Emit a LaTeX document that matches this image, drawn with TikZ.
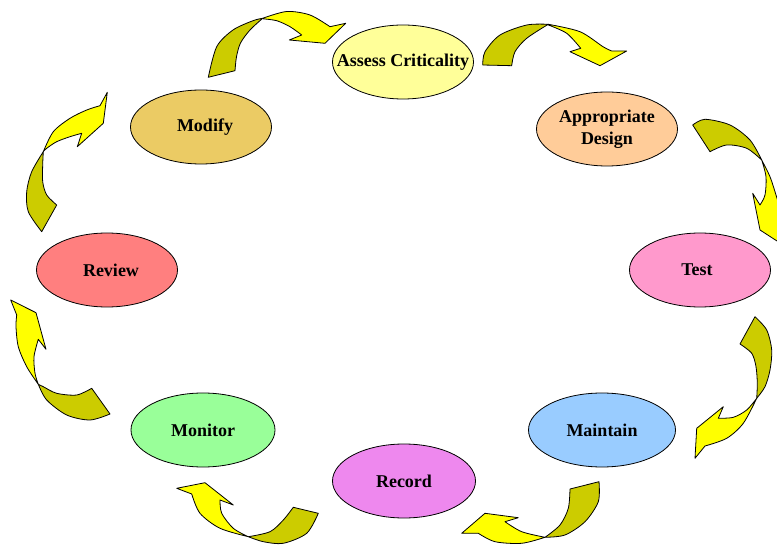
\documentclass[tikz,border=0pt]{standalone}
\usepackage{fontspec}
\setmainfont{Liberation Serif}
\usetikzlibrary{shapes.geometric}
\definecolor{cAssess}{HTML}{FFFF99}
\definecolor{cDesign}{HTML}{FFCC99}
\definecolor{cTest}{HTML}{FF99CC}
\definecolor{cMaintain}{HTML}{99CCFF}
\definecolor{cRecord}{HTML}{EE88EE}
\definecolor{cMonitor}{HTML}{99FF99}
\definecolor{cReview}{HTML}{FF7F7F}
\definecolor{cModify}{HTML}{EBCB64}
\definecolor{arrowback}{HTML}{CCCC00}
\definecolor{arrowfront}{HTML}{FFFF00}
\tikzset{
  stage/.style={ellipse, draw=black, line width=0.8pt, inner sep=0pt,
    minimum width=141pt, minimum height=74pt},
  stagetext/.style={inner sep=0pt, align=center,
    font=\bfseries\fontsize{18}{22}\selectfont},
  backface/.style={fill=arrowback, draw=black, line width=0.8pt, line join=round},
  frontface/.style={fill=arrowfront, draw=black, line width=0.8pt, line join=round}
}
\begin{document}
\begin{tikzpicture}[x=1pt,y=-1pt]
\useasboundingbox (0,0) rectangle (777,545);
\clip (0,0) rectangle (777,545);

% stages
\node[stage, fill=cAssess]   (assess)   at (403,62)  {};
\node[stage, fill=cDesign]   (design)   at (607,129) {};
\node[stage, fill=cTest]     (test)     at (700,270) {};
\node[stage, fill=cMaintain, minimum width=147pt] (maintain) at (602,430) {};
\node[stage, fill=cRecord, minimum width=143pt]   (record)   at (404,481) {};
\node[stage, fill=cMonitor, minimum width=144pt]  (monitor)  at (203,430) {};
\node[stage, fill=cReview]   (review)   at (107,270) {};
\node[stage, fill=cModify]   (modify)   at (201,127) {};

\node[stagetext] (assesst)   at (assess)   {Assess Criticality};
\node[stagetext] (designt)   at (design)   {Appropriate\\Design};
\node[stagetext] (testt)     at ([xshift=-3pt]test.center) {Test};
\node[stagetext] (maintaint) at (maintain) {Maintain};
\node[stagetext] (recordt)   at (record)   {Record};
\node[stagetext] (monitort)  at (monitor)  {Monitor};
\node[stagetext] (reviewt)   at ([xshift=4pt]review.center) {Review};
\node[stagetext] (modifyt)   at ([xshift=4pt]modify.center) {Modify};

% arrow 1: Modify -> Assess
\draw[backface] (208.3,77.3) -- (235,70.7)
  -- plot[smooth] coordinates {(235,70.7) (236.5,56.7) (240.5,43) (250,30) (262.7,18.3)}
  -- plot[smooth] coordinates {(262.7,18.3) (253,20.7) (233,30) (216.7,46.7) (208.3,77.3)} -- cycle;
\draw[frontface] plot[smooth] coordinates {(262.7,18.3) (286.7,11.5) (310,15) (330,26.7)}
  -- (345.7,23.3) -- (325,43.3) -- (289.3,40) -- (301.7,35)
  -- plot[smooth] coordinates {(301.7,35) (290,26.7) (276.7,20.7) (262.7,18.8)} -- cycle;

% arrow 2: Assess -> Design
\draw[backface] (482.7,65) -- (511.7,65.7)
  -- plot[smooth] coordinates {(511.7,65.7) (515,51.7) (526.7,38.3) (548.3,24.3)}
  -- plot[smooth] coordinates {(548.3,24.3) (526.7,25) (500,35) (485,51.7) (482.7,65)} -- cycle;
\draw[frontface] plot[smooth] coordinates {(548.3,24.3) (580,31.7) (603,46.7) (611.7,51)}
  -- (626.7,51) -- (600,65.7) -- (570,51.7) -- (580.7,48.3)
  -- plot[smooth] coordinates {(580.7,48.3) (566.7,33.3) (548.3,25)} -- cycle;

% arrow 3: Design -> Test
\draw[backface] plot[smooth] coordinates {(692.7,125) (705,119.3) (730,125) (750,140) (761.7,160)}
  -- plot[smooth] coordinates {(761.7,160) (746.7,148.3) (726.7,145) (710,151.7)} -- cycle;
\draw[frontface] plot[smooth] coordinates {(761.7,160) (770,176.7) (776,195) (781,212)}
  -- (792,205) -- (792,246) -- (777,241) -- (760,230) -- (752.7,193.3) -- (760,205)
  -- plot[smooth] coordinates {(760,205) (765,195) (766,176.7) (761.7,160)} -- cycle;

% arrow 4: Test -> Maintain
\draw[backface] (740,344) -- (755,316.7)
  -- plot[smooth] coordinates {(755,316.7) (766.7,330) (771.7,350) (770,370) (765,386.7) (756.7,398.3)}
  -- plot[smooth] coordinates {(756.7,398.3) (757.3,383.3) (756,366.7) (751.7,353.3) (740,344)} -- cycle;
\draw[frontface] plot[smooth] coordinates {(756.7,398.3) (743.3,423.3) (726.7,438.3) (705,446)}
  -- (695,458.3) -- (696.7,428.3) -- (723.3,406.7) -- (718.3,418.3)
  -- plot[smooth] coordinates {(718.3,418.3) (733.3,417.3) (746.7,410) (756.7,398.3)} -- cycle;

% arrow 8: Maintain -> Record
\draw[backface] (570,489) -- (599,481.7)
  -- plot[smooth] coordinates {(599,481.7) (598.3,501.7) (585,521.7) (565,535) (545,537.3)}
  -- plot[smooth] coordinates {(545,537.3) (560,525) (568.3,508.3) (570,489)} -- cycle;
\draw[frontface] plot[smooth] coordinates {(545,537.3) (521.7,543.3) (495,541.7) (478.3,533.3)}
  -- (461.7,533.3) -- (485,513.3) -- (518.3,517.7) -- (505,521.7)
  -- plot[smooth] coordinates {(505,521.7) (521.7,531.7) (545,537.3)} -- cycle;

% arrow 7: Record -> Monitor
\draw[backface] (293.3,507.3) -- (318.3,513.3)
  -- plot[smooth] coordinates {(318.3,513.3) (306.7,533.3) (283.3,543.3) (263.3,541.7) (248.3,536.7)}
  -- plot[smooth] coordinates {(248.3,536.7) (270,531.7) (283.3,520) (293.3,507.3)} -- cycle;
\draw[frontface] plot[smooth] coordinates {(248.3,536.7) (220,528.3) (200,513.3) (191.7,494)}
  -- (176.7,488.3) -- (205,482.7) -- (233.3,505) -- (220,500)
  -- plot[smooth] coordinates {(220,500) (221.7,513.3) (233.3,528.3) (248.3,536.7)} -- cycle;

% arrow 6: Monitor -> Review
\draw[backface] (91.7,388.3) -- (110,414)
  -- plot[smooth] coordinates {(110,414) (90,420) (66.7,415) (46.7,400) (38.3,384.3)}
  -- plot[smooth] coordinates {(38.3,384.3) (43.3,386.7) (56.7,393.3) (76.7,395) (91.7,388.3)} -- cycle;
\draw[frontface] plot[smooth] coordinates {(38.3,384.3) (26.7,366.7) (18.3,346.7) (16,326.7) (16.7,315)}
  -- (10.7,300) -- (36,312.7) -- (46,349.3) -- (38.3,339.3)
  -- plot[smooth] coordinates {(38.3,339.3) (34,356.7) (35,373.3) (38.3,384.3)} -- cycle;

% arrow 5: Review -> Modify
\draw[backface] (41.7,231.7) -- (56.7,205)
  -- plot[smooth] coordinates {(56.7,205) (46.7,195) (42.7,181.7) (42.7,165) (43.3,151.7)}
  -- plot[smooth] coordinates {(43.3,151.7) (31.7,171.7) (26.7,191.7) (28.3,211.7) (41.7,231.7)} -- cycle;
\draw[frontface] plot[smooth] coordinates {(43.3,151.7) (53.3,131.7) (70,118.3) (86.7,110) (100,105.7)}
  -- (107.3,92.3) -- (103.3,123.3) -- (77.3,146.7) -- (81.7,133.3)
  -- plot[smooth] coordinates {(81.7,133.3) (70,136.7) (56.7,141.7) (46.7,148.3) (43.3,151.7)} -- cycle;
\end{tikzpicture}
\end{document}
